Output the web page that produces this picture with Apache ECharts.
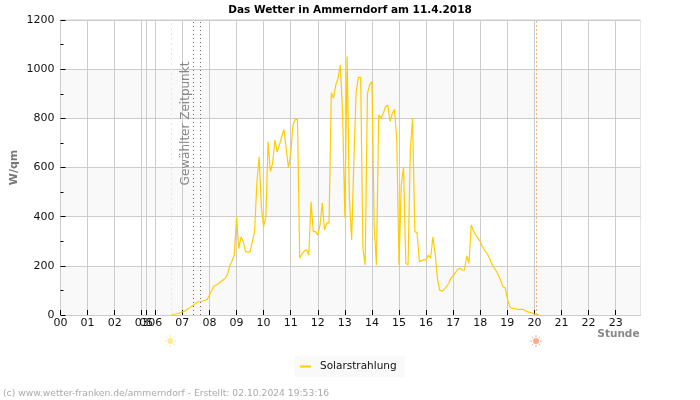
<!DOCTYPE html>
<html><head><meta charset="utf-8">
<style>html,body{margin:0;padding:0;background:#fff}#c{width:700px;height:400px}</style>
<script src="https://cdn.jsdelivr.net/npm/echarts@6/dist/echarts.min.js"></script>
</head><body><div id="c"></div>
<script>
// Sample index runs along the axis; the night samples are compressed as in the reference.
const hourLabels = ['00','01','02','03','05','06','07','08','09','10','11','12','13','14','15','16','17','18','19','20','21','22','23'];
const hourSamples = [0,12,24,36,38,42,54,66,78,90,102,114,126,138,150,162,174,186,198,210,222,234,246];
const firstSample = 49;
const solar = [2,3,4,6,9,13,
15,22,28,35,40,48,54,55,57,60,63,81,
100,118,122,128,135,142,150,165,200,220,244,398,270,318,298,257,257,
257,298,339,536,644,440,359,400,705,583,618,712,664,691,725,755,679,598,658,773,796,796,
232,248,260,265,244,460,339,339,325,366,455,346,375,375,903,882,936,964,1017,820,396,1051,475,305,630,
908,967,967,271,203,902,936,949,359,203,814,800,820,847,854,787,820,837,712,203,529,603,210,203,671,800,
339,335,217,221,224,224,244,230,318,251,149,101,97,104,115,129,149,160,172,186,190,183,183,241,210,366,
343,325,312,298,278,262,251,233,210,194,180,163,142,115,111,68,34,27,26,24,23,23,23,17,13,11,9,3,3,1];
const sunriseSample = 49, sunsetSample = 211;
const selectedSamples = [59, 62];
const totalSamples = 257;
const yTicks = {min:0, max:1200, step:200};

const chart = echarts.init(document.getElementById('c'), null, {renderer:'canvas'});
const font = 'DejaVu Sans';
const tickSet = {};
hourSamples.forEach((s,i)=>tickSet[s]=hourLabels[i]);

function vline(x,color,type,w){
  return {xAxis:x, lineStyle:{color:color,type:type,width:w||1}, label:{show:false}, symbol:'none'};
}
chart.setOption({
  animation:false,
  backgroundColor:'#fff',
  textStyle:{fontFamily:font},
  title:{text:'Das Wetter in Ammerndorf am 11.4.2018',left:'center',top:0,
    textStyle:{fontFamily:font,fontSize:10.5,fontWeight:'bold',color:'#000'}},
  grid:{left:60.5,right:59.5,top:20,bottom:85,outerBoundsMode:'none',show:true,borderColor:'#ccc',borderWidth:1,backgroundColor:'transparent'},
  legend:{show:true,left:295,top:356,padding:[5,8,5,5],backgroundColor:'#f9f9f9',
    itemWidth:11,itemHeight:2,icon:'rect',itemGap:0,
    textStyle:{fontFamily:font,fontSize:10.5,color:'#111',padding:[0,0,0,4]}},
  xAxis:{type:'value',min:0,max:totalSamples,
    axisLine:{show:true,lineStyle:{color:'#ccc'}},
    axisTick:{show:true,inside:true,length:5,lineStyle:{color:'#000'},customValues:hourSamples},
    axisLabel:{show:true,color:'#111',fontFamily:font,fontSize:11,margin:3,customValues:hourSamples,
      hideOverlap:false,showMinLabel:true,showMaxLabel:true,formatter:v=>tickSet[v]},
    splitLine:{show:true,lineStyle:{color:'#ccc',width:1}},
    name:'Stunde',nameLocation:'end',nameGap:0,nameMoveOverlap:false,
    nameTextStyle:{fontFamily:font,fontWeight:'bold',fontSize:10.5,color:'#888',align:'right',verticalAlign:'top',padding:[14,1,0,0]}},
  yAxis:{type:'value',min:yTicks.min,max:yTicks.max,interval:yTicks.step,
    axisLine:{show:true,lineStyle:{color:'#ccc'}},
    axisTick:{show:true,inside:true,length:5,lineStyle:{color:'#000'}},
    minorTick:{show:true,splitNumber:2,length:3,lineStyle:{color:'#000'}},
    minorSplitLine:{show:false},
    axisLabel:{color:'#111',fontFamily:font,fontSize:11,margin:6,formatter:v=>String(v)},
    splitLine:{show:true,lineStyle:{color:'#ccc',width:1}},
    splitArea:{show:true,areaStyle:{color:['#f9f9f9','#ffffff']}},
    name:'W/qm',nameLocation:'middle',nameGap:41,nameRotate:90,nameMoveOverlap:false,
    nameTextStyle:{fontFamily:font,fontWeight:'bold',fontSize:11,color:'#777'}},
  series:[{
    name:'Solarstrahlung',type:'line',symbol:'none',showSymbol:false,smooth:false,
    lineStyle:{color:'#ffcc00',width:1.2},itemStyle:{color:'#ffcc00'},
    data:solar.map((v,i)=>[firstSample+i,v]),
    markLine:{silent:true,symbol:'none',animation:false,
      data:[
        vline(sunriseSample,'#f5eb9a',[2,3]),
        vline(sunsetSample,'#f7b27a',[2,2]),
        ...selectedSamples.map(s=>vline(s,'#666',[1,3]))
      ]}
  }]
});

function sun(x,y,color){
  const parts=[{type:'circle',shape:{cx:x,cy:y,r:3},style:{fill:color}}];
  for(let k=0;k<8;k++){
    const a=k*Math.PI/4;
    parts.push({type:'line',shape:{x1:x+Math.cos(a)*4,y1:y+Math.sin(a)*4,x2:x+Math.cos(a)*6,y2:y+Math.sin(a)*6},
      style:{stroke:color,lineWidth:1}});
  }
  return parts;
}
const riseX=chart.convertToPixel({xAxisIndex:0},sunriseSample-0.3);
const setX=chart.convertToPixel({xAxisIndex:0},sunsetSample-0.3);
chart.setOption({graphic:[
  {type:'text',left:3,top:389,style:{text:'(c) www.wetter-franken.de/ammerndorf - Erstellt: 02.10.2024 19:53:16',fontFamily:font,fontSize:9.2,fill:'#aaa'}},
  {type:'text',x:186,y:123.5,rotation:Math.PI/2,style:{text:'Gewählter Zeitpunkt',fontFamily:font,fontSize:12,fill:'#888',align:'center',verticalAlign:'middle'}},
  ...sun(riseX,341,'#fde8a0'),
  ...sun(setX,341,'#f9ab8c')
]});
</script></body></html>
